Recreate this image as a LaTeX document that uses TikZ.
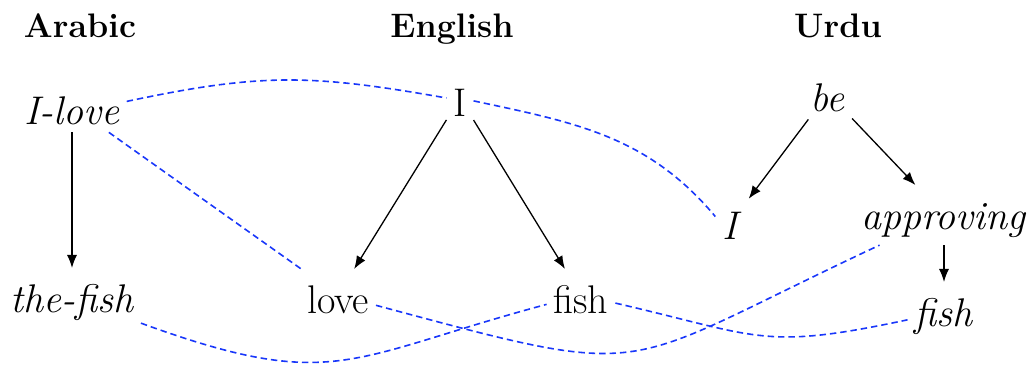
\documentclass[tikz,border=0pt]{standalone}
\usepackage{xcolor}
\usepackage{tikz}
\usetikzlibrary{arrows.meta, positioning}

\definecolor{linkblue}{RGB}{25,55,250}

\begin{document}
\begin{tikzpicture}[
    x=0.5pt, y=0.5pt,
    word/.style={anchor=base, inner sep=3.3pt, text height=19pt,
                 font=\fontsize{20}{24}\selectfont},
    lang/.style={anchor=base, inner sep=0pt, font=\fontsize{17}{20}\selectfont\bfseries},
    dep/.style={-{Latex[length=6.5pt, width=5pt]}, line width=0.65pt},
    link/.style={linkblue, line width=0.8pt, dash pattern=on 3.2pt off 2pt}
  ]
    \useasboundingbox (0,0) rectangle (1032,-368);

    \node[lang] (arabic)  at (80,-38)  {Arabic};
    \node[lang] (english) at (452,-38) {English};
    \node[lang] (urdu)    at (838,-38) {Urdu};

    \node[word] (ilove)     at (72,-125)  {\textit{I-love}};
    \node[word] (thefish)   at (72,-313)  {\textit{the-fish}};
    \node[word] (ieng)      at (460,-117) {I};
    \node[word] (love)      at (338,-314) {love};
    \node[word] (fish)      at (581,-314) {fish};
    \node[word] (be)        at (828,-112) {\textit{be}};
    \node[word] (iurdu)     at (732,-240) {\textit{I}};
    \node[word] (approving) at (944,-230) {\textit{approving}};
    \node[word] (fishurdu)  at (944,-327) {\textit{fish}};

    \draw[dep] (ilove) -- (thefish);
    \draw[dep] (ieng) -- (love);
    \draw[dep] (ieng) -- (fish);
    \draw[dep] (be) -- (iurdu);
    \draw[dep] (be) -- (approving);
    \draw[dep] (approving) -- (fishurdu);

    \draw[link] (ilove.5) to[out=12, in=170, looseness=1.1] (ieng.west);
    \draw[link] (ilove) -- (love);
    \draw[link] (ieng) to[out=-12, in=130] (iurdu.165);
    \draw[link] (thefish) to[out=-20, in=195, looseness=1.3] (fish);
    \draw[link] (love) to[out=-15, in=205, looseness=1.5] (approving);
    \draw[link] (fish) to[out=-13, in=192, looseness=1.3] (fishurdu);
  \end{tikzpicture}
\end{document}
